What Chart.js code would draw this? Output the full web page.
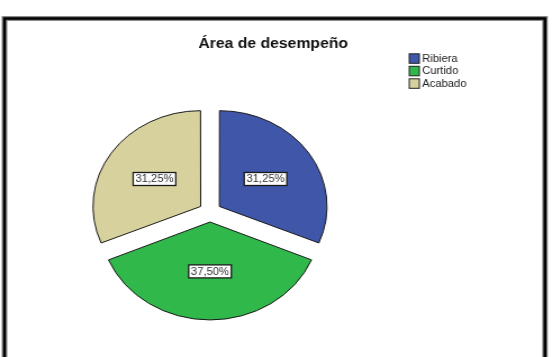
<!DOCTYPE html>
<html>
<head>
<meta charset="utf-8">
<script src="https://cdn.jsdelivr.net/npm/chart.js@4"></script>
<style>
  html, body { margin: 0; padding: 0; background: #ffffff; overflow: hidden; }
  #wrap { width: 491px; height: 357px; transform: scaleX(1.1242); transform-origin: 0 0; }
  canvas { display: block; }
</style>
</head>
<body>
<div id="wrap"><canvas id="c" width="491" height="357"></canvas></div>
<script>
const title = "Área de desempeño";
const categories = ["Ribiera", "Curtido", "Acabado"];
const values = [31.25, 37.5, 31.25];
const valueLabels = ["31,25%", "37,50%", "31,25%"];
const colors = ["#3f56a9", "#30b84b", "#d7d29d"];

const FONT = "'Liberation Sans', Arial, sans-serif";

const framePlugin = {
  id: 'frame',
  beforeDraw(chart) {
    const ctx = chart.ctx;
    ctx.save();
    ctx.fillStyle = '#ffffff';
    ctx.fillRect(0, 0, chart.width, chart.height);
    ctx.beginPath();
    ctx.moveTo(4, 360);
    ctx.lineTo(4, 18.5);
    ctx.lineTo(484.8, 18.5);
    ctx.lineTo(484.8, 360);
    ctx.strokeStyle = '#8a8a8a';
    ctx.lineWidth = 5;
    ctx.stroke();
    ctx.strokeStyle = '#000000';
    ctx.lineWidth = 2.6;
    ctx.stroke();
    // title
    ctx.fillStyle = '#111111';
    ctx.font = "bold 14px " + FONT;
    ctx.textAlign = 'center';
    ctx.textBaseline = 'alphabetic';
    ctx.fillText(title, 243, 48);
    // legend
    ctx.font = "10px " + FONT;
    ctx.textAlign = 'left';
    ctx.textBaseline = 'middle';
    categories.forEach((c, i) => {
      const yc = 58.5 + 12.5 * i;
      ctx.fillStyle = colors[i];
      ctx.fillRect(364, yc - 4.7, 9, 9.5);
      ctx.strokeStyle = '#222222';
      ctx.lineWidth = 1;
      ctx.strokeRect(364, yc - 4.7, 9, 9.5);
      ctx.fillStyle = '#222222';
      ctx.fillText(c, 375.5, yc + 0.5);
    });
    ctx.restore();
  }
};

const labelPlugin = {
  id: 'boxLabels',
  afterDatasetsDraw(chart) {
    const ctx = chart.ctx;
    const meta = chart.getDatasetMeta(0);
    ctx.save();
    ctx.font = "10px " + FONT;
    ctx.textAlign = 'center';
    ctx.textBaseline = 'middle';
    meta.data.forEach((arc, i) => {
      const p = arc.getProps(['x', 'y', 'startAngle', 'endAngle', 'outerRadius']);
      const mid = (p.startAngle + p.endAngle) / 2;
      const off = (arc.options.offset || 0) / 4;
      const d = off + p.outerRadius * 0.52;
      const x = p.x + Math.cos(mid) * d;
      const y = p.y + Math.sin(mid) * d;
      const txt = valueLabels[i];
      const w = ctx.measureText(txt).width + 4;
      const h = 13;
      ctx.fillStyle = '#ffffff';
      ctx.fillRect(x - w / 2, y - h / 2, w, h);
      ctx.strokeStyle = '#1a1a1a';
      ctx.lineWidth = 1.3;
      ctx.strokeRect(x - w / 2, y - h / 2, w, h);
      ctx.fillStyle = '#333333';
      ctx.fillText(txt, x, y + 0.5);
    });
    ctx.restore();
  }
};

new Chart(document.getElementById('c'), {
  type: 'pie',
  data: {
    labels: categories,
    datasets: [{
      data: values,
      backgroundColor: colors,
      borderColor: '#1a1a1a',
      borderWidth: 1,
      offset: 40,
      hoverOffset: 0,
      radius: 95
    }]
  },
  options: {
    responsive: false,
    animation: false,
    events: [],
    layout: { padding: { left: 86.8, right: 204.2, top: 112, bottom: 45 } },
    plugins: {
      legend: { display: false },
      title: { display: false },
      tooltip: { enabled: false }
    }
  },
  plugins: [framePlugin, labelPlugin]
});
</script>
</body>
</html>
